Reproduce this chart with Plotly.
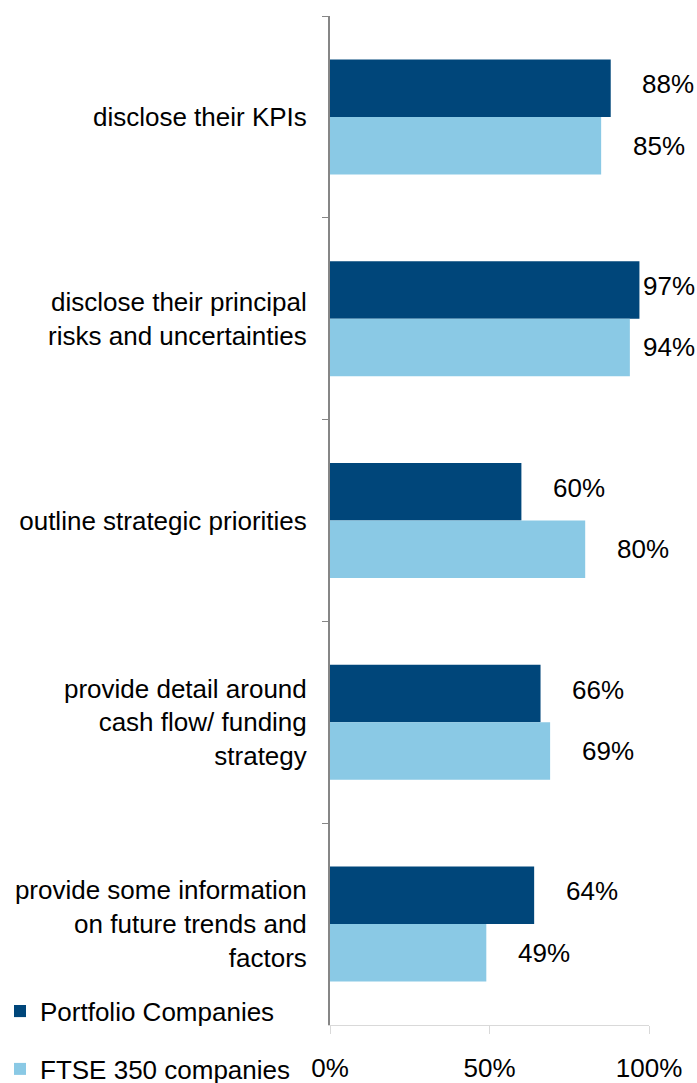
import plotly.graph_objects as go

categories = [
    "disclose their KPIs",
    "disclose their principal<br>risks and uncertainties",
    "outline strategic priorities",
    "provide detail around<br>cash flow/ funding<br>strategy",
    "provide some information<br>on future trends and<br>factors",
]
portfolio = [88, 97, 60, 66, 64]
ftse = [85, 94, 80, 69, 49]
series_names = ["Portfolio Companies", "FTSE 350 companies"]
x_ticks = [0, 50, 100]
x_ticklabels = ["0%", "50%", "100%"]

W, H = 697, 1083
ML, MR, MT, MB = 330, 48, 16, 58
DARK = "#00467A"
LIGHT = "#8AC9E5"
FONT = "Liberation Sans, Arial, sans-serif"
FS = 26
BARGAP = 0.43

fig = go.Figure()
fig.add_trace(go.Bar(y=categories, x=portfolio, orientation="h", name=series_names[0],
                     marker=dict(color=DARK, line=dict(width=0)), legendgroup="a"))
fig.add_trace(go.Bar(y=categories, x=ftse, orientation="h", name=series_names[1],
                     marker=dict(color=LIGHT, line=dict(width=0)), legendgroup="b"))

px_per_unit = (W - ML - MR) / 100.0
band_px = (H - MT - MB) / len(categories)
bar_px = band_px * (1 - BARGAP) / 2

annotations = []
for vals, sign, extra in ((portfolio, -1, 4), (ftse, 1, 0)):
    for cat, v in zip(categories, vals):
        center = min(v + 18, 106.3)
        annotations.append(dict(
            x=v, y=cat, xref="x", yref="y", text=f"{v}%", showarrow=False,
            xanchor="center", yanchor="middle",
            xshift=(center - v) * px_per_unit, yshift=-sign * bar_px / 2 + extra,
            font=dict(family=FONT, size=FS, color="#000000"),
        ))

fig.update_layout(
    width=W, height=H,
    margin=dict(l=ML, r=MR, t=MT, b=MB, pad=0, autoexpand=False),
    paper_bgcolor="white", plot_bgcolor="white",
    barmode="group", bargap=BARGAP, bargroupgap=0,
    font=dict(family=FONT, size=FS, color="#000000"),
    annotations=annotations,
    showlegend=True,
    legend=dict(
        xref="container", yref="container", x=0, y=0.088,
        xanchor="left", yanchor="top",
        traceorder="grouped", tracegroupgap=21,
        font=dict(family=FONT, size=FS, color="#000000"),
        bgcolor="rgba(0,0,0,0)", itemwidth=30,
    ),
    xaxis=dict(
        range=[0, 100], tickvals=x_ticks, ticktext=x_ticklabels,
        showgrid=False, zeroline=False, automargin=False, tickangle=0,
        showline=True, linecolor="#D9D9D9", linewidth=1,
        ticks="outside", ticklen=8, tickcolor="#D9D9D9", tickwidth=1,
        ticklabelstandoff=12,
        tickfont=dict(family=FONT, size=FS, color="#000000"),
    ),
    yaxis=dict(
        autorange="reversed", type="category", automargin=False,
        showgrid=False, zeroline=False,
        showline=True, linecolor="#868686", linewidth=2,
        ticks="outside", ticklen=6, tickcolor="#868686", tickwidth=1,
        tickson="boundaries", ticklabelstandoff=16,
        tickfont=dict(family=FONT, size=FS, color="#000000"),
    ),
)

fig.write_html("out.html")
